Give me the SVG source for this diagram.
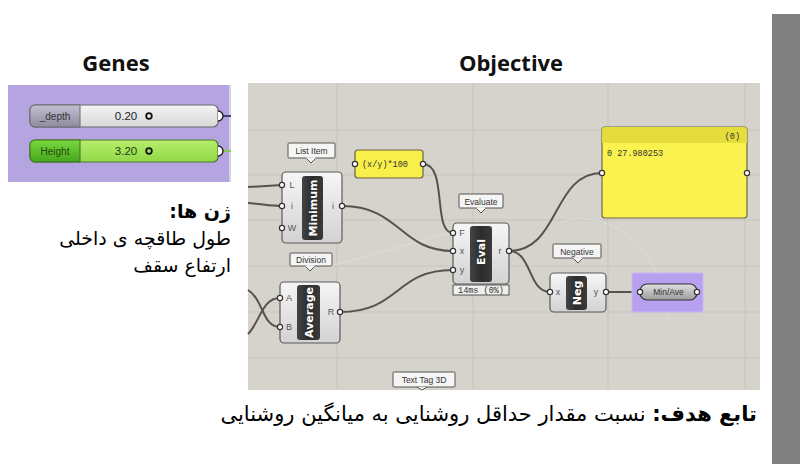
<svg xmlns="http://www.w3.org/2000/svg" width="800" height="464" viewBox="0 0 800 464">
<defs>
<linearGradient id="comp" x1="0" y1="0" x2="0" y2="1"><stop offset="0" stop-color="#f6f6f6"/><stop offset="1" stop-color="#d2d2d2"/></linearGradient>
<linearGradient id="bar" x1="0" y1="0" x2="1" y2="0"><stop offset="0" stop-color="#444"/><stop offset="0.5" stop-color="#2c2c2c"/><stop offset="1" stop-color="#3a3a3a"/></linearGradient>
<linearGradient id="sgrey" x1="0" y1="0" x2="0" y2="1"><stop offset="0" stop-color="#c4c0d2"/><stop offset="1" stop-color="#8f8ba0"/></linearGradient>
<linearGradient id="sbody" x1="0" y1="0" x2="0" y2="1"><stop offset="0" stop-color="#f4f4f4"/><stop offset="1" stop-color="#d8d8d8"/></linearGradient>
<linearGradient id="sgreen" x1="0" y1="0" x2="0" y2="1"><stop offset="0" stop-color="#7ad83e"/><stop offset="1" stop-color="#46a61c"/></linearGradient>
<linearGradient id="sgbody" x1="0" y1="0" x2="0" y2="1"><stop offset="0" stop-color="#b6ee6c"/><stop offset="1" stop-color="#92d848"/></linearGradient>
<linearGradient id="pill" x1="0" y1="0" x2="0" y2="1"><stop offset="0" stop-color="#e0e0e0"/><stop offset="1" stop-color="#9c9c9c"/></linearGradient>
</defs>
<style>
.title{font-family:"Open Sans","Liberation Sans",sans-serif;font-weight:bold;font-size:22px;fill:#111;text-anchor:middle}
.fa{font-family:"DejaVu Sans",sans-serif;font-size:19px;fill:#000}
.fa-big{font-size:21px}
.wire{fill:none;stroke:#58524c;stroke-width:2}
.ghost{fill:none;stroke:#dfdcd6;stroke-width:1}
.grid{stroke:#c7c3bd;stroke-width:1}
.comp{fill:url(#comp);stroke:#5a5a5a;stroke-width:1.2}
.bar{fill:url(#bar)}
.bt{font-family:"DejaVu Sans","Liberation Sans",sans-serif;font-weight:bold;font-size:11px;fill:#fff;text-anchor:middle}
.pt{font-family:"Liberation Sans",sans-serif;font-size:9px;fill:#555;text-anchor:middle}
.port{fill:#fff;stroke:#333;stroke-width:1.2}
.tag{fill:#f5f5f3;stroke:#555;stroke-width:1}
.tt{font-family:"Liberation Sans",sans-serif;font-size:8.5px;fill:#333;text-anchor:middle}
.mono{font-family:"Liberation Mono",monospace;font-size:8.5px;fill:#333}
.sl{font-family:"Liberation Sans",sans-serif;font-size:10px}
.sv{font-size:11.5px}
</style>

<!-- grey strip -->
<rect x="772" y="14" width="28" height="450" fill="#808080"/>

<!-- titles -->
<text class="title" x="116" y="71">Genes</text>
<text class="title" x="511" y="71">Objective</text>

<!-- Genes panel -->
<g id="genes">
<rect x="8" y="85" width="223" height="97" fill="#b4a4e0"/>
<line x1="230" y1="85" x2="230" y2="182" stroke="#d4d2dc" stroke-width="2"/>
</g>

<!-- slider wires -->
<g id="slider-wires">
<line x1="220" y1="116" x2="231" y2="116" stroke="#4a3e6a" stroke-width="2"/>
<line x1="220" y1="151" x2="231" y2="151" stroke="#86c850" stroke-width="2"/>
</g>

<g id="slider-depth">
<rect x="30" y="105" width="188" height="22" rx="5" fill="url(#sbody)" stroke="#6a6a6a" stroke-width="1.2"/>
<path d="M35,105 H80 V127 H35 A5,5 0 0 1 30,122 V110 A5,5 0 0 1 35,105 Z" fill="url(#sgrey)" stroke="#6a6a6a" stroke-width="1"/>
<line x1="86" y1="116" x2="212" y2="116" stroke="#cfcfcf" stroke-width="1" stroke-dasharray="1,9"/>
<text class="sl" x="55" y="120" text-anchor="middle" fill="#333">_depth</text>
<text class="sl sv" x="126" y="120" text-anchor="middle" fill="#222">0.20</text>
<circle cx="149" cy="116" r="2.8" fill="none" stroke="#111" stroke-width="1.8"/>
<path d="M218,111 A5,5 0 0 1 218,121" fill="#fff" stroke="#222" stroke-width="1.4"/>
</g>

<g id="slider-height">
<rect x="30" y="140" width="188" height="22" rx="5" fill="url(#sgbody)" stroke="#4a7a2a" stroke-width="1.2"/>
<path d="M35,140 H80 V162 H35 A5,5 0 0 1 30,157 V145 A5,5 0 0 1 35,140 Z" fill="url(#sgreen)" stroke="#3e6e22" stroke-width="1"/>
<line x1="86" y1="151" x2="212" y2="151" stroke="#a8e070" stroke-width="1" stroke-dasharray="1,9"/>
<text class="sl" x="55" y="155" text-anchor="middle" fill="#1f4a0c">Height</text>
<text class="sl sv" x="126" y="155" text-anchor="middle" fill="#1a3a08">3.20</text>
<circle cx="149" cy="151" r="2.8" fill="none" stroke="#111" stroke-width="1.8"/>
<path d="M218,146 A5,5 0 0 1 218,156" fill="#fff" stroke="#222" stroke-width="1.4"/>
</g>

<!-- Persian genes text -->
<g id="genes-text">
<text class="fa" x="231" y="218" direction="rtl" text-anchor="start" font-weight="bold">ژن ها:</text>
<text class="fa" x="231" y="245" direction="rtl" text-anchor="start">طول طاقچه ی داخلی</text>
<text class="fa" x="231" y="272" direction="rtl" text-anchor="start">ارتفاع سقف</text>
</g>

<!-- Canvas -->
<g id="canvas">
<rect x="248" y="83" width="512" height="307" fill="#d6d2cc"/>
<line class="grid" x1="337" y1="83" x2="337" y2="390"/>
<line class="grid" x1="473" y1="83" x2="473" y2="390"/>
<line class="grid" x1="608" y1="83" x2="608" y2="390"/>
<line class="grid" x1="745" y1="83" x2="745" y2="390"/>
<line class="grid" x1="248" y1="130" x2="760" y2="130"/>
<line class="grid" x1="248" y1="175" x2="760" y2="175"/>
<line class="grid" x1="248" y1="220" x2="760" y2="220"/>
<line class="grid" x1="248" y1="266" x2="760" y2="266"/>
<line class="grid" x1="248" y1="312" x2="760" y2="312"/>
<line class="grid" x1="248" y1="358" x2="760" y2="358"/>
<path class="ghost" d="M328,267 L453,232"/>
<path class="ghost" d="M560,222 C620,205 665,260 668,320"/>
</g>

<!-- connectors -->
<g id="connectors">
<path class="wire" d="M248,187 L282,185" stroke-width="3"/>
<path class="wire" d="M248,203 C262,204 270,206 282,206"/>
<path class="wire" d="M248,290 C264,300 262,327 280,327"/>
<path class="wire" d="M248,334 C260,322 262,298 280,298"/>
<path class="wire" d="M342,206 C400,206 400,251 453,251"/>
<path class="wire" d="M423,164 C448,164 432,233 453,233"/>
<path class="wire" d="M340,312 C400,312 395,270 453,270"/>
<path class="wire" d="M509,251 C560,251 552,173 602,173"/>
<path class="wire" d="M509,251 C532,251 528,292 550,292"/>
<path class="wire" d="M606,292 L640,292" stroke="#2e2a3a" stroke-width="2.5"/>
</g>

<!-- List Item / Minimum -->
<g id="minimum">
<rect class="tag" x="288" y="143" width="47" height="15" rx="1"/>
<path d="M306,158 L311,163 L316,158" fill="#f5f5f3" stroke="#555" stroke-width="1"/>
<line x1="306.5" y1="158" x2="315.5" y2="158" stroke="#f5f5f3" stroke-width="1.5"/>
<text class="tt" x="311.5" y="154">List Item</text>
<rect class="comp" x="282" y="172" width="60" height="71" rx="4"/>
<rect class="bar" x="302" y="176" width="21" height="64" rx="3"/>
<text class="bt" transform="translate(316.5,208) rotate(-90)">Minimum</text>
<text class="pt" x="292" y="188">L</text>
<text class="pt" x="292" y="209">i</text>
<text class="pt" x="292" y="231">W</text>
<text class="pt" x="333" y="209">i</text>
<circle class="port" cx="282" cy="185" r="2.6"/>
<circle class="port" cx="282" cy="206" r="2.6"/>
<circle class="port" cx="282" cy="228" r="2.6"/>
<circle class="port" cx="342" cy="206" r="2.6"/>
</g>

<!-- Expression -->
<g id="expression">
<rect x="355" y="150" width="68" height="28" rx="3" fill="#f9ef4a" stroke="#6a6440" stroke-width="1.2"/>
<text class="mono" x="362" y="167">(x/y)*100</text>
<circle class="port" cx="355" cy="164" r="2.6"/>
<circle class="port" cx="423" cy="164" r="2.6"/>
</g>

<!-- Division / Average -->
<g id="average">
<rect class="tag" x="290" y="253" width="42" height="13" rx="1"/>
<path d="M305,266 L310,271 L315,266" fill="#f5f5f3" stroke="#555" stroke-width="1"/>
<line x1="305.5" y1="266" x2="314.5" y2="266" stroke="#f5f5f3" stroke-width="1.5"/>
<text class="tt" x="311" y="263">Division</text>
<rect class="comp" x="280" y="282" width="60" height="61" rx="4"/>
<rect class="bar" x="297" y="285" width="23" height="55" rx="3"/>
<text class="bt" transform="translate(312.5,312.5) rotate(-90)">Average</text>
<text class="pt" x="289" y="301">A</text>
<text class="pt" x="289" y="330">B</text>
<text class="pt" x="331" y="315">R</text>
<circle class="port" cx="280" cy="298" r="2.6"/>
<circle class="port" cx="280" cy="327" r="2.6"/>
<circle class="port" cx="340" cy="312" r="2.6"/>
</g>

<!-- Evaluate -->
<g id="evaluate">
<rect class="tag" x="459" y="194" width="44" height="14" rx="1"/>
<path d="M476,208 L481,213 L486,208" fill="#f5f5f3" stroke="#555" stroke-width="1"/>
<line x1="476.5" y1="208" x2="485.5" y2="208" stroke="#f5f5f3" stroke-width="1.5"/>
<text class="tt" x="481" y="204.5">Evaluate</text>
<rect class="comp" x="453" y="223" width="56" height="61" rx="4"/>
<rect class="bar" x="470" y="226" width="22" height="56" rx="3"/>
<text class="bt" transform="translate(485,252) rotate(-90)">Eval</text>
<text class="pt" x="462" y="236">F</text>
<text class="pt" x="462" y="254">x</text>
<text class="pt" x="462" y="273">y</text>
<text class="pt" x="500" y="254">r</text>
<circle class="port" cx="453" cy="233" r="2.6"/>
<circle class="port" cx="453" cy="251" r="2.6"/>
<circle class="port" cx="453" cy="270" r="2.6"/>
<circle class="port" cx="509" cy="251" r="2.6"/>
<rect x="453" y="285" width="56" height="10" fill="#efefed" stroke="#555" stroke-width="1"/>
<text class="mono" x="481" y="293" text-anchor="middle">14ms (0%)</text>
</g>

<!-- Panel -->
<g id="panel">
<rect x="602" y="127" width="145" height="91" rx="3" fill="#faf24e" stroke="#6e6a48" stroke-width="1.2"/>
<path d="M605,127 H744 A3,3 0 0 1 747,130 V143 H602 V130 A3,3 0 0 1 605,127 Z" fill="#e6dc3c"/>
<text class="mono" x="740" y="139" text-anchor="end">(0)</text>
<text class="mono" x="607" y="156">0 27.980253</text>
<circle class="port" cx="602" cy="173" r="2.6"/>
<circle class="port" cx="747" cy="173" r="2.6"/>
</g>

<!-- Negative -->
<g id="negative">
<rect class="tag" x="553" y="244" width="48" height="14" rx="1"/>
<path d="M573,258 L578,263 L583,258" fill="#f5f5f3" stroke="#555" stroke-width="1"/>
<line x1="573.5" y1="258" x2="582.5" y2="258" stroke="#f5f5f3" stroke-width="1.5"/>
<text class="tt" x="577" y="254.5">Negative</text>
<rect class="comp" x="550" y="273" width="56" height="39" rx="4"/>
<rect class="bar" x="566" y="276" width="21" height="34" rx="3"/>
<text class="bt" transform="translate(580.5,293) rotate(-90)">Neg</text>
<text class="pt" x="558" y="295">x</text>
<text class="pt" x="596" y="295">y</text>
<circle class="port" cx="550" cy="292" r="2.6"/>
<circle class="port" cx="606" cy="292" r="2.6"/>
</g>

<!-- Min/Ave param in purple group -->
<g id="minave">
<rect x="632" y="273" width="71" height="39" fill="#b8a0f0" stroke="#c8b8f4" stroke-width="1"/>
<rect x="640" y="284" width="57" height="16" rx="7" fill="url(#pill)" stroke="#333" stroke-width="1.2"/>
<text class="tt" x="668.5" y="295">Min/Ave</text>
<circle class="port" cx="640" cy="292" r="2.6"/>
<circle class="port" cx="697" cy="292" r="2.6"/>
</g>

<!-- Text Tag 3D -->
<g id="texttag">
<rect class="tag" x="393" y="372" width="62" height="15" rx="1"/>
<path d="M417,387 L422,390 L427,387" fill="#f5f5f3" stroke="#555" stroke-width="1"/>
<text class="tt" x="424" y="383">Text Tag 3D</text>
</g>

<!-- bottom text -->
<text class="fa fa-big" x="757" y="421" direction="rtl" text-anchor="start"><tspan font-weight="bold">تابع هدف:</tspan> نسبت مقدار حداقل روشنایی به میانگین روشنایی</text>
</svg>
